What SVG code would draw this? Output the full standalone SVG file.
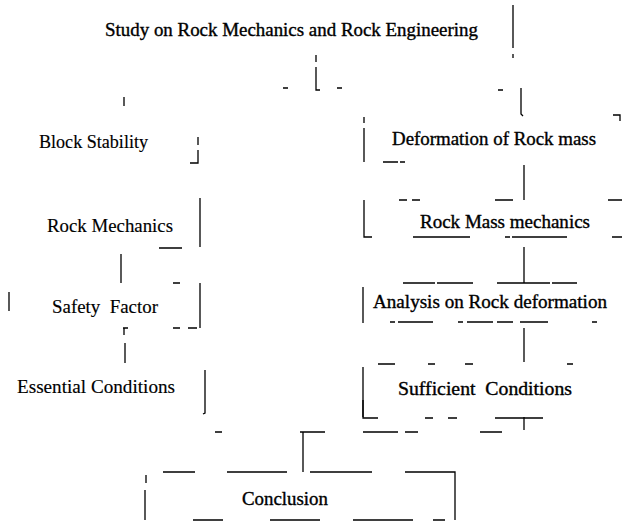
<svg xmlns="http://www.w3.org/2000/svg" width="622" height="522" viewBox="0 0 622 522">
<style>
text{font-family:"Liberation Serif","Times New Roman",serif;font-size:18px;fill:#000;white-space:pre}
.h{stroke:#000;stroke-width:0.35}
.l{stroke:#000;stroke-width:0.15}
path{fill:none;stroke:#000;stroke-width:1.3}
</style>
<rect width="622" height="522" fill="#fff"/>
<g id="title">
<text class="h" x="105" y="36" textLength="373" lengthAdjust="spacingAndGlyphs">Study on Rock Mechanics and Rock Engineering</text>
<path d="M513 5V48M513 54V58"/>
</g>
<g id="block-stability">
<text class="l" x="39" y="148" textLength="109" lengthAdjust="spacingAndGlyphs">Block Stability</text>
<path d="M198 137V145M198 150V163H190"/>
</g>
<g id="rock-mechanics">
<text class="l" x="47" y="232" textLength="126" lengthAdjust="spacingAndGlyphs">Rock Mechanics</text>
<path d="M200 198V247M159 248H182"/>
</g>
<g id="safety-factor">
<text class="l" x="52" y="313" textLength="106" lengthAdjust="spacingAndGlyphs" xml:space="preserve">Safety  Factor</text>
<path d="M173 283H180M9 292V311M200 283V328M173 328H180M188 328H197M123 328H128M124 328V335"/>
</g>
<g id="essential-conditions">
<text class="l" x="17" y="393" textLength="158" lengthAdjust="spacingAndGlyphs">Essential Conditions</text>
<path d="M205 370V413L203 414"/>
</g>
<g id="deformation">
<text class="h" x="392" y="145" textLength="204" lengthAdjust="spacingAndGlyphs">Deformation of Rock mass</text>
<path d="M364 117V123M364 128V162M383 162H398M400 162H405M613 115H620V121"/>
</g>
<g id="rock-mass-mechanics">
<text class="h" x="420" y="228" textLength="170" lengthAdjust="spacingAndGlyphs">Rock Mass mechanics</text>
<path d="M399 200H407M412 200H420M495 200H513M608 200H622M364 200V237H372M413 237H470M505 237H510M512 237H567M612 237H622"/>
</g>
<g id="analysis">
<text class="h" x="373" y="308" textLength="234" lengthAdjust="spacingAndGlyphs">Analysis on Rock deformation</text>
<path d="M403 283H435M437 283H473M497 283H550M552 283H577M363 287V323M390 322H395M398 322H433M458 322H463M467 322H493M497 322H513M520 322H548M592 322H597"/>
</g>
<g id="sufficient-conditions">
<text class="h" x="398" y="395" textLength="174" lengthAdjust="spacingAndGlyphs" xml:space="preserve">Sufficient  Conditions</text>
<path d="M378 364H395M428 364H435M465 364H473M567 364H573M363 367V418H378M425 418H433M448 418H457M495 418H543"/>
</g>
<g id="conclusion">
<text class="h" x="242" y="505" textLength="86" lengthAdjust="spacingAndGlyphs">Conclusion</text>
<path d="M163 472H195M227 472H287M310 472H372M405 472H420M420 472H455V520M146 475V483M145 490V520M193 520H223M270 520H320M353 520H413M433 520H445"/>
</g>
<g id="connectors">
<path d="M316 55V62M316 67V90H320M283 88H288M337 88H342M124 97V106M498 90H503M521 88V114L523 116"/>
<path d="M121 254V283"/>
<path d="M125 343V363"/>
<path d="M524 165V200"/>
<path d="M524 247V283"/>
<path d="M524 328V362"/>
<path d="M524 417V430"/>
<path d="M215 432H222M300 432H325M363 432H398M405 432H418M480 432H502M303 432V472M363 400V417"/>
</g>
</svg>
